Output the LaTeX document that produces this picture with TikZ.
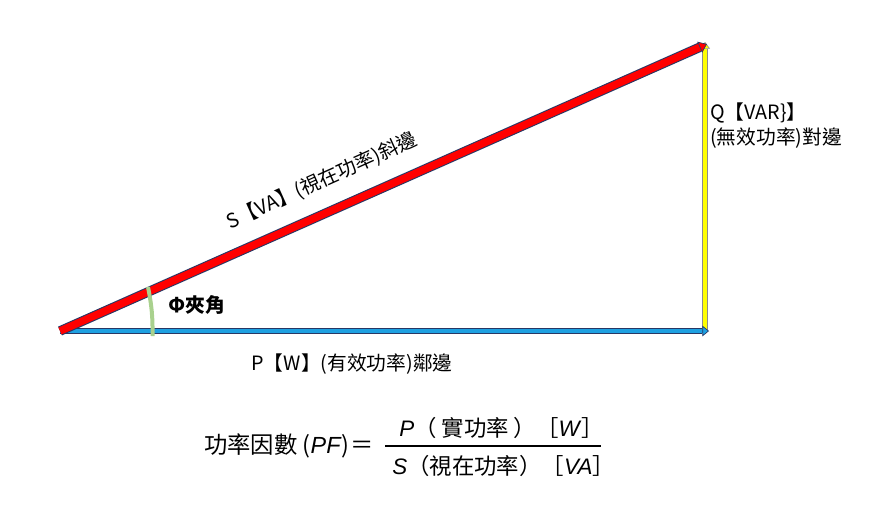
\documentclass[tikz,border=0pt]{standalone}
\usepackage{fontspec}
\setmainfont{Noto Sans CJK TC}
\newfontfamily\latin{Liberation Sans}
\usetikzlibrary{arrows.meta}
\definecolor{pblue}{RGB}{30,160,225}
\definecolor{navy}{RGB}{40,55,100}
\definecolor{sred}{RGB}{255,0,0}
\definecolor{qyel}{RGB}{255,255,0}
\definecolor{ygray}{RGB}{140,140,140}
\definecolor{agreen}{RGB}{169,209,142}
\begin{document}
\begin{tikzpicture}[x=0.75pt,y=-0.75pt,
  lbl/.style={font=\fontsize{14.8pt}{18.8pt}\selectfont, inner sep=0pt},
  frm/.style={font=\fontsize{17.5pt}{20pt}\selectfont, inner sep=0pt, anchor=base},
  frc/.style={font=\fontsize{16.8pt}{20pt}\selectfont, inner sep=0pt, anchor=base west}]
\useasboundingbox (0,0) rectangle (870,512);
\coordinate (O) at (60,331);
\coordinate (B) at (709,331);
\coordinate (Yb) at (705,331);
\coordinate (Yt) at (705,42);
\coordinate (Rt) at (707,44);
\coordinate (g1) at (152.5,336);
\coordinate (g2) at (148,287);
% yellow Q
\draw[line width=4.8pt, ygray, shorten >=5pt] (Yb) -- (Yt);
\draw[line width=3.4pt, qyel, -{Triangle[length=5pt,width=7.5pt,fill=qyel,color=ygray,line width=0.5pt]}] (Yb) -- (Yt);
% blue P
\draw[line width=5pt, navy, shorten >=5pt] (O) -- (B);
\draw[line width=3.6pt, pblue, -{Triangle[length=5pt,width=8pt,fill=pblue,color=navy,line width=0.5pt]}] (O) -- (B);
% red S
\draw[line width=7.2pt, navy, shorten >=6pt] (O) -- (Rt);
\draw[line width=5.6pt, sred, -{Triangle[length=6pt,width=9pt,fill=sred,color=navy,line width=0.5pt]}] (O) -- (Rt);
% angle arc
\draw[line width=3pt, agreen] (g1) to[bend right=6] (g2);
% labels
\node[lbl, font=\fontsize{14.8pt}{18pt}\selectfont\bfseries] (phi) at (197,305) {Φ夾角};
\node[lbl, rotate=24.2] (slab) at (322,181) {S【VA】(視在功率)斜邊};
\node[lbl] (plab) at (352,364) {P【W】(有效功率)鄰邊};
\node[lbl, anchor=west, align=left] (qlab) at (710,126) {Q【VAR\}】\\(無效功率)對邊};
% formula
\node[frm, anchor=base west] (pf) at (204,453) {功率因數 (\textit{\latin PF})\kern1pt＝};
\draw[line width=0.9pt] (385,446) -- (601,446);
\node[frc] (num) at (399,436) {\textit{\latin P}（ 實功率 ）［\textit{\latin W}］};
\node[frc] (den) at (392,474) {\textit{\latin S}（視在功率）［\textit{\latin VA}］};
\end{tikzpicture}
\end{document}
